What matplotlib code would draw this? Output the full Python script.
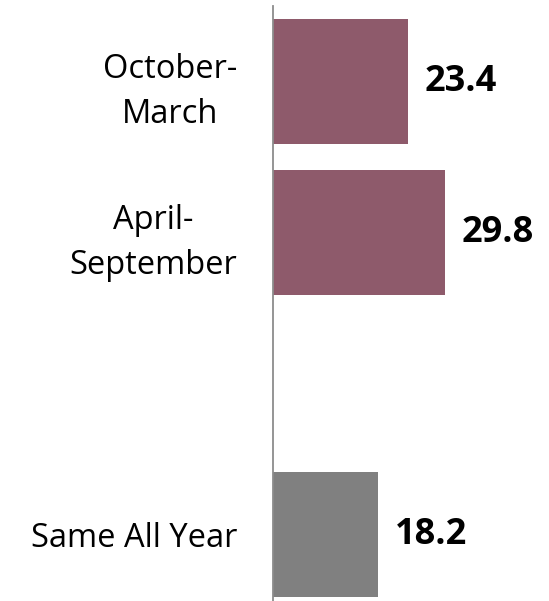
"""Horizontal bar chart of seasonal values."""

import numpy as np
import matplotlib
matplotlib.use("Agg")
import matplotlib.pyplot as plt

# data
categories = ["October-\nMarch", "April-\nSeptember", "", "Same All Year"]
values = [23.4, 29.8, 0.0, 18.2]
bar_colors = ["#8E5A6B", "#8E5A6B", "#8E5A6B", "#808080"]


def main():
    fig = plt.figure(figsize=(5.49, 6.01), dpi=100)
    ax = fig.add_axes([273 / 549, 0.0, 1 - 273 / 549, 1 - 6 / 601])

    y = np.arange(len(categories))
    ax.barh(y, values, height=0.83, color=bar_colors, linewidth=0)

    # value labels next to each bar
    for yi, v in zip(y, values):
        if v > 0:
            ax.text(v + 2.9, yi, f"{v:.1f}", va="center", ha="left",
                    fontsize=26, fontweight="bold", family="Open Sans")

    ax.set_xlim(0, 276 / 5.77)
    ax.set_ylim(3.44, -0.5)
    ax.set_yticks(y)
    ax.set_yticklabels(categories, fontsize=23.5, family="Open Sans",
                       multialignment="center", linespacing=1.5)
    ax.tick_params(axis="y", length=0, pad=26)
    ax.set_xticks([])

    for side in ["top", "right", "bottom"]:
        ax.spines[side].set_visible(False)
    ax.spines["left"].set_color("#8C8C8C")
    ax.spines["left"].set_linewidth(1.3)

    plt.savefig("out.png", dpi=100)


if __name__ == "__main__":
    main()
